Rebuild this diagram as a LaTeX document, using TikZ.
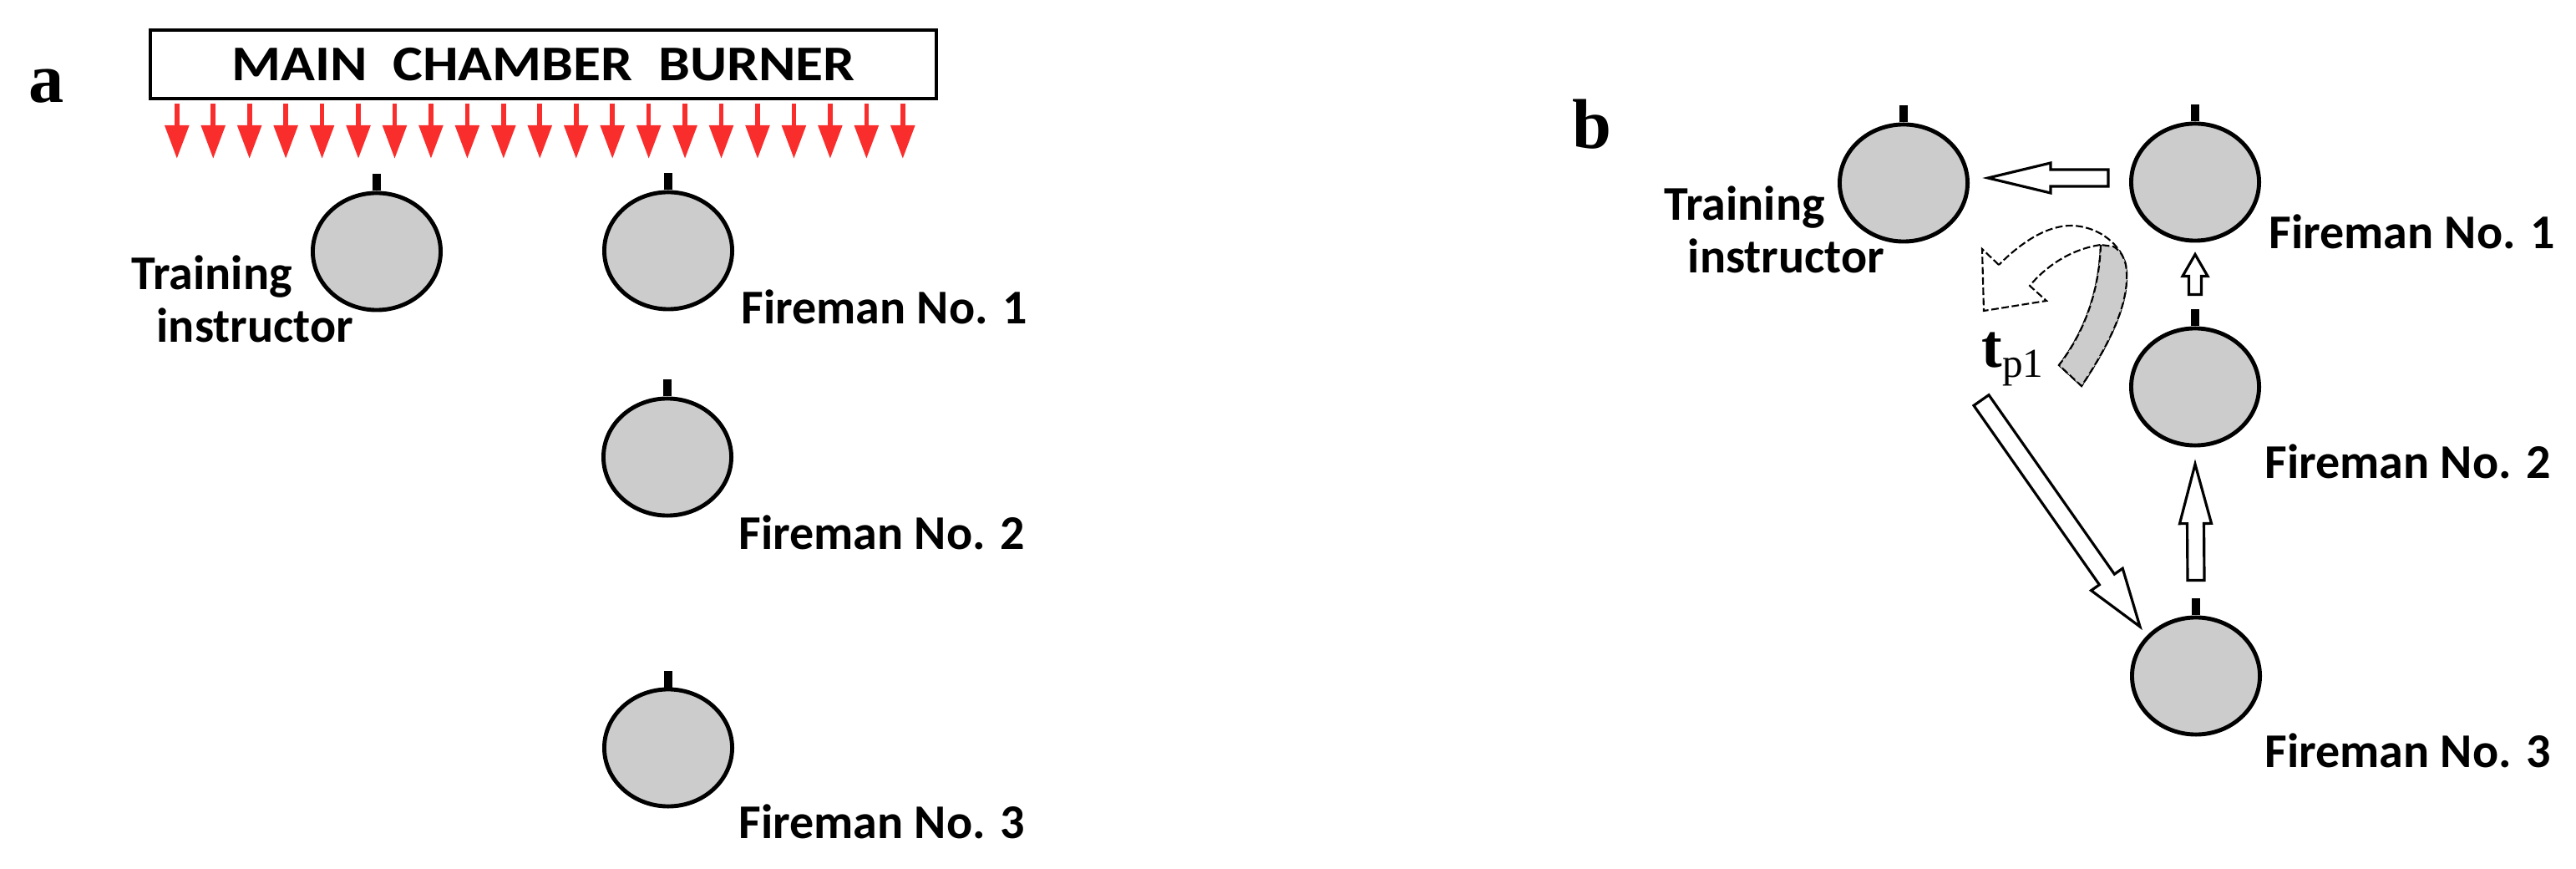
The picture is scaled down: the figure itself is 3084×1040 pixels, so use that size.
\documentclass[tikz,border=0pt]{standalone}
\usepackage{fontspec}
\setmainfont{Carlito}
\newfontfamily\panelfont{Liberation Serif}
\usepackage{graphicx}
\usetikzlibrary{arrows.meta,positioning,shapes.geometric,calc}

\definecolor{flamered}{RGB}{250,45,45}
\definecolor{headgray}{RGB}{204,204,204}

% hollow block arrow: from, to, half shaft, half head, head length
\newcommand{\blockarrow}[5]{%
  \coordinate (hb) at ($(#2)!#5!(#1)$);
  \draw[blockarr] ($(#1)!#3!90:(#2)$) -- ($(hb)!#3!90:(#2)$) -- ($(hb)!#4!90:(#2)$) -- (#2)
    -- ($(hb)!#4!-90:(#2)$) -- ($(hb)!#3!-90:(#2)$) -- ($(#1)!#3!-90:(#2)$) -- cycle;
}

\begin{document}
\begin{tikzpicture}[x=0.01cm,y=-0.01cm,
  person/.style={ellipse,draw,line width=1.4pt,fill=headgray,minimum width=1.53cm,minimum height=1.40cm,inner sep=0pt},
  nose/.style={line width=2.6pt},
  tag/.style={font=\fontsize{16.5}{18}\selectfont\bfseries,inner sep=0pt,anchor=base west},
  tagtwo/.style={tag,align=left,anchor=north west},
  panel/.style={font=\panelfont\fontsize{24}{24}\selectfont\bfseries,inner sep=0pt,anchor=base west},
  burner/.style={draw,rectangle,line width=1.1pt,minimum width=9.41cm,minimum height=0.82cm,inner sep=0pt,font=\fontsize{17}{17}\selectfont\bfseries},
  flame/.style={flamered,line width=1.6pt,-{Triangle[length=0.40cm,width=0.28cm]}},
  blockarr/.style={draw,fill=white,line width=0.9pt,line join=miter},
  twist/.style={draw,line width=0.6pt,dash pattern=on 2.5pt off 1pt}
]
\useasboundingbox (0,0) rectangle (3084,1040);

% ---------- panel a ----------
\node[panel] (pa) at (34,123) {a};
\node[burner] (burner) at (650.5,77) {\scalebox{1.13}[1]{MAIN\ \ CHAMBER\ \ BURNER}};
\foreach \i in {0,...,20}
  \draw[flame] ($(burner.south west)+({34+43.45*\i},4)$) -- ++(0,66);

\node[person] (ta) at (451,301) {};
\node[person] (f1a) at (800,300) {};
\node[person] (f2a) at (799,547) {};
\node[person] (f3a) at (800,895) {};

\node[tagtwo] (talab) at (157,305) {Training\\\hspace*{0.30cm}instructor};
\node[tag] (f1alab) at (887,388) {Fireman No. 1};
\node[tag] (f2alab) at (884,657) {Fireman No. 2};
\node[tag] (f3alab) at (884,1003) {Fireman No. 3};

% ---------- panel b ----------
\node[panel] (pb) at (1882,178) {b};

\node[person] (tb) at (2279,219) {};
\node[person] (f1b) at (2628,218) {};
\node[person] (f2b) at (2628,463) {};
\node[person] (f3b) at (2629,809) {};

\foreach \p in {ta,f1a,f2a,f3a,tb,f1b,f2b,f3b}
  \draw[nose] (\p.north) -- ++(0,-20);

\node[tagtwo] (tblab) at (1992,222) {Training\\\hspace*{0.28cm}instructor};
\node[tag] (f1blab) at (2716,298) {Fireman No. 1};
\node[tag] (f2blab) at (2711,573) {Fireman No. 2};
\node[tag] (f3blab) at (2711,918) {Fireman No. 3};

% curved arrow
\path[twist,fill=white] (2393,317) -- (2373,298) -- (2375,372) -- (2450,360) -- (2430,342)
  .. controls (2450,318) and (2480,298) .. (2515,293)
  .. controls (2513,350) and (2495,398) .. (2465,437) -- (2492,462)
  .. controls (2525,412) and (2552,360) .. (2545,317)
  .. controls (2540,295) and (2515,271) .. (2480,270)
  .. controls (2450,270) and (2420,290) .. (2393,317) -- cycle;
\path[twist,fill=headgray] (2515,293)
  .. controls (2513,350) and (2495,398) .. (2465,437) -- (2492,462)
  .. controls (2525,412) and (2552,360) .. (2545,317)
  .. controls (2542,305) and (2537,299) .. (2530,295) -- cycle;

\node[inner sep=0pt,anchor=base west,font=\panelfont\fontsize{21}{21}\selectfont] (tp1) at (2372,440)
  {\textbf{t}\raisebox{-3.4pt}{\fontsize{14}{14}\selectfont p1}};

% connectors
\coordinate (a1s) at ($(f1b.west)+(-25,-5)$);
\coordinate (a1e) at ($(tb.east)+(22,-6)$);
\coordinate (a2s) at ($(f2b.north)+(0,-38)$);
\coordinate (a2e) at ($(f1b.south)+(0,14)$);
\coordinate (a3s) at ($(f3b.north)+(0,-42)$);
\coordinate (a3e) at ($(f2b.south)+(0,20)$);
\coordinate (a4s) at (2372,479);
\coordinate (a4e) at ($(f3b.center)+(-67,-59)$);

\blockarrow{a1s}{a1e}{0.10cm}{0.18cm}{0.75cm}
\blockarrow{a2s}{a2e}{0.075cm}{0.15cm}{0.26cm}
\blockarrow{a3s}{a3e}{0.10cm}{0.19cm}{0.71cm}
\blockarrow{a4s}{a4e}{0.11cm}{0.23cm}{0.69cm}

\end{tikzpicture}
\end{document}
